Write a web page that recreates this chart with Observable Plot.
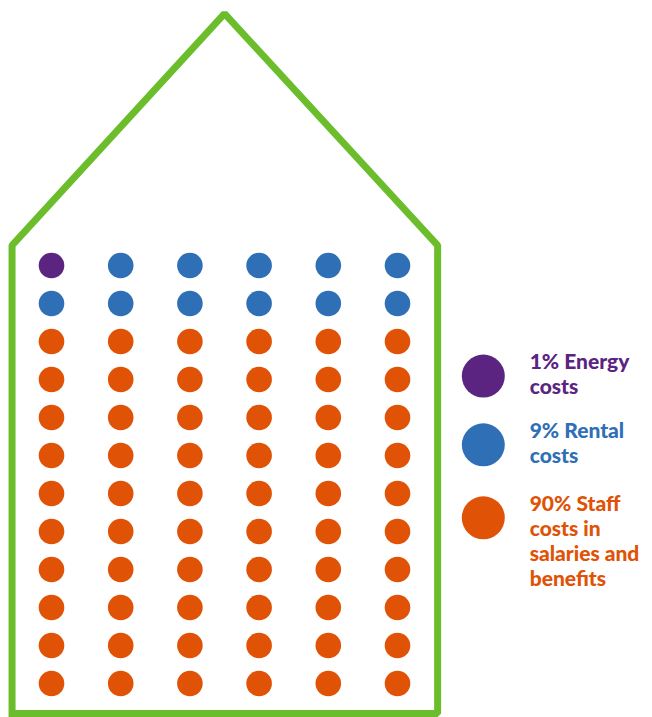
<!DOCTYPE html>
<html>
<head>
<meta charset="utf-8">
<script src="https://cdn.jsdelivr.net/npm/d3@7"></script>
<script src="https://cdn.jsdelivr.net/npm/@observablehq/plot@0.6"></script>
<style>
  html, body { margin: 0; padding: 0; background: #fff; }
  #chart svg { display: block; }
</style>
</head>
<body>
<div id="chart"></div>
<script>
// Cost categories, their stated shares and how many dots each fills in the grid
const categories = ["Energy", "Rental", "Staff"];
const shareLabels = ["1% Energy\ncosts", "9% Rental\ncosts", "90% Staff\ncosts in\nsalaries and\nbenefits"];
const dotCounts = [1, 11, 60];
const colors = ["#5b2480", "#2f6fb6", "#e05206"];

// Grid layout: 6 columns by 12 rows, filled row by row
const columns = 6;
const rows = 12;

// House outline in grid units (columns, rows)
const houseCol = [-0.57, -0.57, 2.5, 5.58, 5.58, -0.57];
const houseRow = [11.79, -0.53, -6.63, -0.53, 11.79, 11.79];

// Legend placement in grid units
const legendCol = 6.24;
const legendTextCol = 6.91;
const legendRow = [2.91, 4.72, 6.64];

const dots = [];
categories.forEach((cat, i) => {
  for (let k = 0; k < dotCounts[i]; k++) dots.push({cat});
});
dots.forEach((d, i) => { d.col = i % columns; d.row = Math.floor(i / columns); });

const house = houseCol.map((c, i) => ({col: c, row: houseRow[i]}));
const legend = categories.map((cat, i) => ({cat, label: shareLabels[i], row: legendRow[i]}));

const chart = Plot.plot({
  width: 652,
  height: 717,
  margin: 0,
  x: {domain: [0, columns - 1], range: [51, 397], axis: null},
  y: {domain: [0, rows - 1], range: [265, 683], axis: null},
  color: {domain: categories, range: colors},
  marks: [
    Plot.line(house, {x: "col", y: "row", stroke: "#6cbd2b", strokeWidth: 7, strokeLinejoin: "miter", strokeLinecap: "square"}),
    Plot.dot(dots, {x: "col", y: "row", r: 12.8, fill: "cat"}),
    Plot.dot(legend, {x: () => legendCol, y: "row", r: 21.5, fill: "cat"}),
    Plot.text(legend, {
      x: () => legendTextCol, y: "row", text: "label", fill: "cat",
      textAnchor: "start", lineAnchor: "top", lineHeight: 1.2, dy: -25,
      fontSize: 21, fontWeight: 900, fontFamily: "Lato"
    })
  ]
});
document.getElementById("chart").append(chart);
</script>
</body>
</html>
